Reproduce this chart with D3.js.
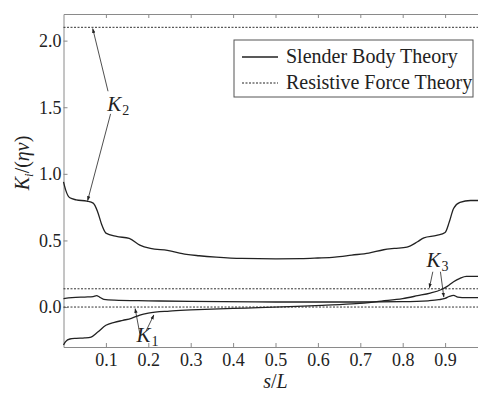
<!DOCTYPE html>
<html>
<head>
<meta charset="utf-8">
<script src="https://cdn.jsdelivr.net/npm/d3@7"></script>
</head>
<body style="margin:0">
<script>
const WIDTH = 478
const HEIGHT = 393
const FONT = "Liberation Serif, Times New Roman, FreeSerif, serif"

// Slender body theory curves
const sK1 = [0, 0.005, 0.015, 0.03, 0.05, 0.065, 0.08, 0.1, 0.12, 0.14, 0.16, 0.18, 0.2, 0.25, 0.3, 0.4, 0.46, 0.55, 0.61, 0.69, 0.75, 0.8, 0.835, 0.865, 0.89, 0.905, 0.92, 0.935, 0.95, 0.978]
const k1 = [-0.285, -0.26, -0.24, -0.235, -0.232, -0.225, -0.19, -0.137, -0.115, -0.1, -0.085, -0.06, -0.045, -0.03, -0.022, -0.01, -0.005, 0.005, 0.013, 0.025, 0.045, 0.063, 0.085, 0.105, 0.13, 0.155, 0.19, 0.215, 0.23, 0.23]

const sK2 = [0, 0.005, 0.015, 0.03, 0.055, 0.07, 0.08, 0.09, 0.1, 0.125, 0.155, 0.18, 0.205, 0.245, 0.29, 0.32, 0.36, 0.42, 0.5, 0.56, 0.6, 0.64, 0.68, 0.72, 0.755, 0.78, 0.81, 0.835, 0.85, 0.88, 0.9, 0.91, 0.92, 0.935, 0.96, 0.978]
const k2 = [0.94, 0.88, 0.82, 0.805, 0.795, 0.78, 0.72, 0.62, 0.555, 0.53, 0.515, 0.465, 0.44, 0.425, 0.395, 0.385, 0.375, 0.365, 0.362, 0.363, 0.368, 0.375, 0.39, 0.405, 0.43, 0.44, 0.45, 0.49, 0.52, 0.538, 0.56, 0.64, 0.74, 0.785, 0.8, 0.8]

const sK3 = [0, 0.02, 0.05, 0.07, 0.078, 0.085, 0.095, 0.12, 0.2, 0.3, 0.5, 0.7, 0.8, 0.86, 0.885, 0.9, 0.91, 0.92, 0.93, 0.95, 0.978]
const k3 = [0.063, 0.07, 0.075, 0.078, 0.085, 0.075, 0.058, 0.052, 0.047, 0.042, 0.038, 0.038, 0.04, 0.047, 0.055, 0.065, 0.08, 0.088, 0.075, 0.07, 0.07]

// Resistive force theory constants (K1, K2, K3)
const rftValues = [0.0, 2.1, 0.137]

// tick labels
const xTicks = [0.1, 0.2, 0.3, 0.4, 0.5, 0.6, 0.7, 0.8, 0.9]
const yTicks = [0.0, 0.5, 1.0, 1.5, 2.0]

const legendLabels = ["Slender Body Theory", "Resistive Force Theory"]

// annotations: label position and arrow tails/heads, in data units
const annotations = [
  { sub: "2", at: [0.103, 1.475], arrows: [[[0.105, 1.62], [0.069, 2.09]], [[0.111, 1.45], [0.057, 0.8]]] },
  { sub: "1", at: [0.172, -0.262], arrows: [[[0.18, -0.2], [0.169, -0.012]], [[0.195, -0.178], [0.213, -0.06]]] },
  { sub: "3", at: [0.856, 0.297], arrows: [[[0.871, 0.265], [0.863, 0.145]], [[0.889, 0.265], [0.897, 0.075]]] }
]

const x = d3.scaleLinear().domain([0, 1]).range([63.5, 487.5])
const y = d3.scaleLinear().domain([-0.3, 2.2]).range([347, 14])

const svg = d3.select("body").append("svg")
    .attr("width", WIDTH)
    .attr("height", HEIGHT)
    .attr("font-family", FONT)

svg.append("defs").append("marker")
    .attr("id", "arrow")
    .attr("viewBox", "0 0 10 10")
    .attr("refX", 9).attr("refY", 5)
    .attr("markerWidth", 6).attr("markerHeight", 6)
    .attr("orient", "auto")
    .append("path")
    .attr("d", "M0,1.5 L10,5 L0,8.5 Z")
    .attr("fill", "#222")

// helper: text in the serif face
function serif(sel, size) {
  return sel.attr("font-family", FONT).style("font-family", FONT).attr("font-size", size).attr("fill", "#222")
}

// axes
const axisColor = "#8a8a8a"
const axisBottomG = svg.append("g")
    .attr("transform", `translate(0,${y.range()[0]})`)
    .call(d3.axisBottom(x).tickValues(xTicks).tickSizeInner(-4).tickSizeOuter(0).tickPadding(6).tickFormat(d3.format(".1f")))
const axisTopG = svg.append("g")
    .attr("transform", `translate(0,${y.range()[1]})`)
    .call(d3.axisTop(x).tickValues(xTicks).tickSizeInner(-4).tickSizeOuter(0).tickFormat(""))
const axisLeftG = svg.append("g")
    .attr("transform", `translate(${x(0)},0)`)
    .call(d3.axisLeft(y).tickValues(yTicks).tickSizeInner(-4).tickSizeOuter(0).tickPadding(2).tickFormat(d3.format(".1f")))

for (const g of [axisBottomG, axisTopG, axisLeftG]) {
  g.attr("font-family", FONT).attr("font-size", 18)
  g.selectAll("path, line").attr("stroke", axisColor)
  serif(g.selectAll("text"), 18)
}

// RFT dotted lines
svg.append("g").selectAll("line")
    .data(rftValues)
    .enter()
    .append("line")
    .attr("x1", x(0)).attr("x2", WIDTH)
    .attr("y1", d => y(d)).attr("y2", d => y(d))
    .attr("stroke", "#333")
    .attr("stroke-width", 1)
    .attr("stroke-dasharray", "2,1.5")

// SBT curves
const line = d3.line().x(d => x(d[0])).y(d => y(d[1])).curve(d3.curveMonotoneX)
const curves = [d3.zip(sK1, k1), d3.zip(sK2, k2), d3.zip(sK3, k3)]
svg.append("g").selectAll("path")
    .data(curves)
    .enter()
    .append("path")
    .attr("d", line)
    .attr("fill", "none")
    .attr("stroke", "#222")
    .attr("stroke-width", 1.3)

// annotations
const ann = svg.append("g")
annotations.forEach(a => {
  const t = serif(ann.append("text"), 21)
      .attr("x", x(a.at[0]))
      .attr("y", y(a.at[1]))
  t.append("tspan").text("K").attr("font-style", "italic")
  t.append("tspan").text(a.sub).attr("font-size", 14).attr("dy", 4).attr("dx", 1)
  a.arrows.forEach(([from, to]) => {
    ann.append("line")
        .attr("x1", x(from[0])).attr("y1", y(from[1]))
        .attr("x2", x(to[0])).attr("y2", y(to[1]))
        .attr("stroke", "#222")
        .attr("stroke-width", 0.8)
        .attr("marker-end", "url(#arrow)")
  })
})

// legend
const legend = svg.append("g").attr("transform", "translate(234,40)")
legend.append("rect")
    .attr("width", 239).attr("height", 57)
    .attr("fill", "#fff").attr("stroke", "#555").attr("stroke-width", 1)
legend.selectAll("g.item")
    .data(legendLabels)
    .enter()
    .append("g")
    .attr("class", "item")
    .each(function (d, i) {
      const g = d3.select(this)
      g.append("line")
          .attr("x1", 8).attr("x2", 44)
          .attr("y1", 17 + i * 26).attr("y2", 17 + i * 26)
          .attr("stroke", "#222")
          .attr("stroke-width", i === 0 ? 1.3 : 1)
          .attr("stroke-dasharray", i === 0 ? null : "2,1.5")
      serif(g.append("text"), 20)
          .attr("x", 52).attr("y", 23 + i * 26)
          .text(d)
    })

// axis titles
const xt = serif(svg.append("text"), 20)
    .attr("x", x(0.5)).attr("y", 388)
    .attr("text-anchor", "middle")
xt.append("tspan").text("s").attr("font-style", "italic")
xt.append("tspan").text("/")
xt.append("tspan").text("L").attr("font-style", "italic")

const yt = serif(svg.append("text"), 20)
    .attr("transform", "translate(29,163) rotate(-90)")
    .attr("text-anchor", "middle")
yt.append("tspan").text("K").attr("font-style", "italic")
yt.append("tspan").text("i").attr("font-style", "italic").attr("font-size", 13).attr("dy", 4)
yt.append("tspan").text("/(").attr("dy", -4)
yt.append("tspan").text("ηv").attr("font-style", "italic")
yt.append("tspan").text(")")
</script>
</body>
</html>
